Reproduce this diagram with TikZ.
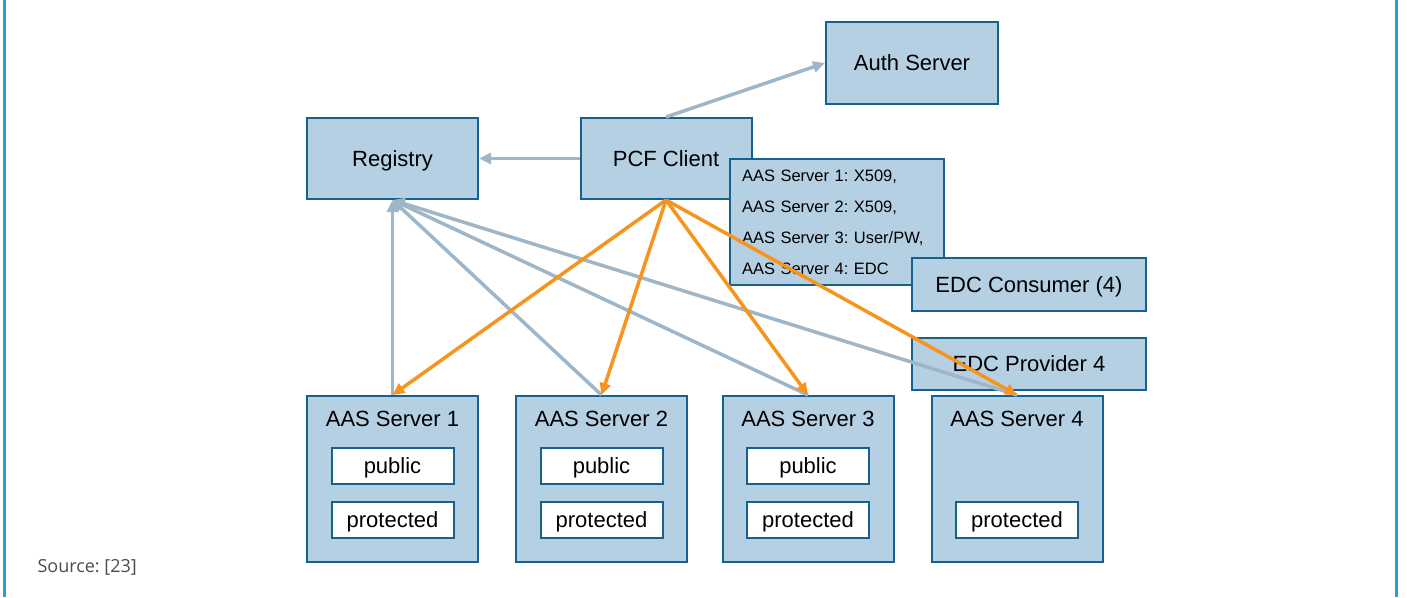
\documentclass[tikz,border=0pt]{standalone}
\usepackage{fontspec}
\setmainfont{Liberation Sans}
\newfontfamily\srcfont{Open Sans}
\usetikzlibrary{positioning,arrows.meta}
\frenchspacing

\definecolor{boxfill}{RGB}{181,208,227}
\definecolor{boxline}{RGB}{22,98,140}
\definecolor{linkgray}{RGB}{158,182,199}
\definecolor{callorange}{RGB}{247,148,30}
\definecolor{frameblue}{RGB}{40,155,210}

\tikzset{
  box/.style={draw=boxline, fill=boxfill, line width=2pt, minimum width=171pt, minimum height=81pt, text depth=0pt, font=\fontsize{22}{26}\selectfont},
  server/.style={box, minimum height=166pt},
  part/.style={draw=boxline, fill=white, line width=2pt, minimum width=122pt, minimum height=36pt, text depth=0pt, font=\fontsize{22}{26}\selectfont},
  graylink/.style={draw=linkgray, line width=3.5pt, -{Triangle[length=12pt,width=11pt]}},
  orangelink/.style={draw=callorange, line width=3.5pt, -{Triangle[length=12pt,width=11pt]}}
}

\begin{document}
\begin{tikzpicture}[x=1pt, y=-1pt]
    \useasboundingbox (0,0) rectangle (1407,597);
    \draw[frameblue, line width=3pt] (4,0) -- (4,597);
    \draw[frameblue, line width=3pt] (1396,0) -- (1396,597);

    \node[box] (reg) at (392.5,158.5) {Registry};
    \node[box] (pcf) at (666,158.5) {PCF Client};
    \node[box, minimum width=172pt, minimum height=82pt] (auth) at (912,63) {Auth Server};
    \node[box, minimum width=214pt, minimum height=126pt, text width=190pt, align=left, inner xsep=12pt,
          text depth=, font=\fontsize{16.5}{31}\selectfont] (list) at (837,222)
        {AAS Server 1: X509,\\AAS Server 2: X509,\\AAS Server 3: User/PW,\\AAS Server 4: EDC};
    \node[box, minimum width=234pt, minimum height=53pt] (cons) at (1029,284.5) {EDC Consumer (4)};
    \node[box, minimum width=234pt, minimum height=52pt] (prov) at (1029,364) {EDC Provider 4};

    \foreach \i/\x in {1/392.5, 2/601.5, 3/808, 4/1017}
        \node[server, label={[anchor=center, yshift=-24pt, font=\fontsize{22}{26}\selectfont]north:AAS Server \i}] (as\i) at (\x,479) {};
    \foreach \i in {1,2,3}
        \node[part] (pub\i) at ([yshift=13pt]as\i.center) {public};
    \foreach \i in {1,...,4}
        \node[part] (prot\i) at ([yshift=-41pt]as\i.center) {protected};

    \node[anchor=west, text=black!70, font=\srcfont\fontsize{18}{22}\selectfont] (src) at (34,567) {Source: [23]};

    \draw[graylink] (pcf) -- (reg);
    \draw[graylink] (pcf.north) -- (auth.west);
    \foreach \i in {1,...,4}
        \draw[graylink] (as\i.north) -- (reg.south);
    \foreach \i in {1,...,4}
        \draw[orangelink] (pcf.south) -- (as\i.north);
\end{tikzpicture}
\end{document}
